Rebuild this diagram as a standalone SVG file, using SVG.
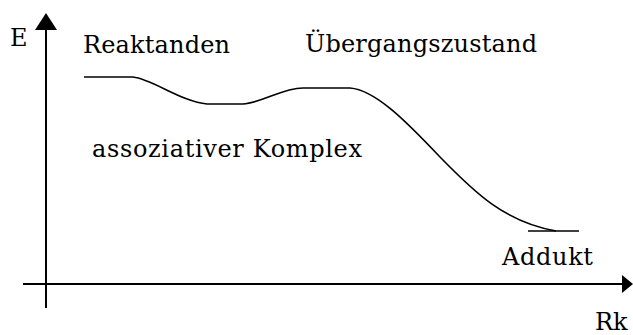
<svg xmlns="http://www.w3.org/2000/svg" width="633" height="335" viewBox="0 0 633 335">
<style>
.lbl{font-family:'DejaVu Serif','Liberation Serif',serif;font-size:24px;fill:#000}
.axis{stroke:#000;stroke-width:2;fill:none}
.curve{stroke:#000;stroke-width:1.6;fill:none}
</style>
<rect width="633" height="335" fill="#fff"/>
<g id="axes">
<line class="axis" x1="46" y1="28" x2="46" y2="308"/>
<polygon points="46,13 35,30 57,30" fill="#000"/>
<line class="axis" x1="23" y1="284" x2="624" y2="284"/>
<polygon points="633,284 622,275 622,293" fill="#000"/>
</g>
<g id="connectors">
<path class="curve" d="M84,77 L133,77 C152,79 182,102 207,104 L243,104 C262,103 282,88 303,88 L350,88 C375,90 405,120 440,157 C475,193 505,222 556,231"/>
<line class="curve" x1="528" y1="231" x2="579" y2="231"/>
</g>
<g id="labels">
<text class="lbl" x="10" y="46">E</text>
<text class="lbl" x="595" y="330">Rk</text>
</g>
<g id="node-reaktanden"><text class="lbl" x="83" y="53" textLength="147" lengthAdjust="spacing">Reaktanden</text></g>
<g id="node-uebergang"><text class="lbl" x="305" y="52" textLength="232" lengthAdjust="spacing">Übergangszustand</text></g>
<g id="node-komplex"><text class="lbl" x="92" y="157" textLength="270" lengthAdjust="spacing">assoziativer Komplex</text></g>
<g id="node-addukt"><text class="lbl" x="502" y="265" textLength="91" lengthAdjust="spacing">Addukt</text></g>
</svg>
